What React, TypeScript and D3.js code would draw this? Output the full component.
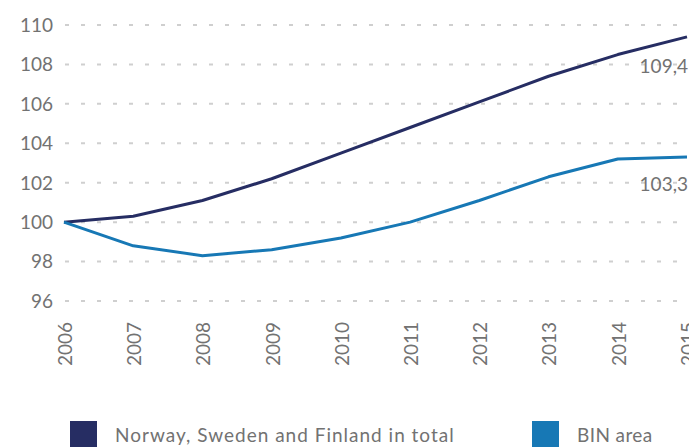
import React from "react";
import * as d3 from "d3";

const years = ["2006", "2007", "2008", "2009", "2010", "2011", "2012", "2013", "2014", "2015"];
const nordicTotal = [100, 100.3, 101.1, 102.2, 103.5, 104.8, 106.1, 107.4, 108.5, 109.4];
const binArea = [100, 98.8, 98.3, 98.6, 99.2, 100.0, 101.1, 102.3, 103.2, 103.3];
const yTicks = [96, 98, 100, 102, 104, 106, 108, 110];
const seriesNames = ["Norway, Sweden and Finland in total", "BIN area"];
const endLabels = ["109,4", "103,3"];

const W = 689;
const H = 447;
const NAVY = "#262d63";
const BLUE = "#1778b5";
const GREY = "#727272";
const FONT = "Lato, 'Open Sans', sans-serif";

export default function App() {
  const x = d3.scalePoint<string>().domain(years).range([64, 687]);
  const y = d3.scaleLinear().domain([96, 110]).range([301, 25]);
  const line = d3
    .line<number>()
    .x((_, i) => x(years[i]) as number)
    .y((d) => y(d));
  const series = [
    { values: nordicTotal, color: NAVY },
    { values: binArea, color: BLUE },
  ];
  return (
    <svg
      width={W}
      height={H}
      style={{ position: "fixed", left: 0, top: 0, background: "#fff" }}
      fontFamily={FONT}
      fontWeight={400}
    >
      {yTicks.map((t) => (
        <g key={t}>
          <line x1={65} x2={W} y1={y(t)} y2={y(t)} stroke="#cfcfcf" strokeWidth={2} strokeDasharray="4,12" />
          <text x={53} y={y(t)} dy="0.36em" textAnchor="end" fontSize={19} fill={GREY}>
            {t}
          </text>
        </g>
      ))}
      {years.map((yr) => (
        <text
          key={yr}
          transform={`translate(${(x(yr) as number) + 1},322) rotate(-90)`}
          dy="0.36em"
          textAnchor="end"
          fontSize={19}
          fill={GREY}
        >
          {yr}
        </text>
      ))}
      {series.map((s, i) => (
        <path key={i} d={line(s.values) || ""} fill="none" stroke={s.color} strokeWidth={3} strokeLinejoin="round" />
      ))}
      <text x={688} y={y(nordicTotal[9]) + 29} dy="0.36em" textAnchor="end" fontSize={19} fill={GREY}>
        {endLabels[0]}
      </text>
      <text x={688} y={y(binArea[9]) + 27} dy="0.36em" textAnchor="end" fontSize={19} fill={GREY}>
        {endLabels[1]}
      </text>
      <rect x={70} y={421} width={27} height={27} fill={NAVY} />
      <text x={115} y={435} dy="0.36em" fontSize={19} fill={GREY} letterSpacing={1.0}>
        {seriesNames[0]}
      </text>
      <rect x={532} y={421} width={27} height={27} fill={BLUE} />
      <text x={577} y={435} dy="0.36em" fontSize={19} fill={GREY} letterSpacing={0.4}>
        {seriesNames[1]}
      </text>
    </svg>
  );
}
